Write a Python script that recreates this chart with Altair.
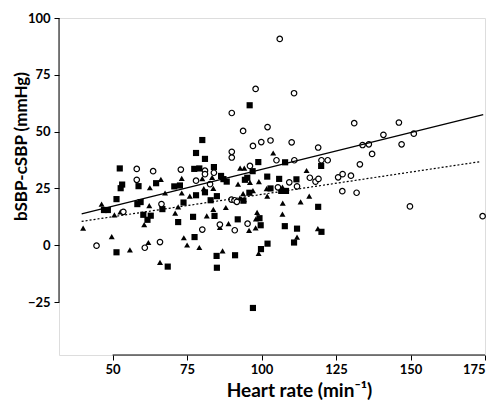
import altair as alt
import pandas as pd

# ---- data ----
circle_hr = [106.1, 98.0, 110.9, 90.0, 93.8, 102.0, 97.1, 99.9, 103.0, 110.1,
             90.0, 90.0, 105.0, 111.0, 58.1, 63.6, 72.9, 81.0, 81.0, 84.0,
             96.1, 58.1, 78.0, 82.7, 105.5, 109.3, 89.9, 90.9, 91.7, 66.4,
             53.6, 44.6, 60.8, 65.9, 80.1, 86.0, 91.0, 95.3, 120.1, 122.2,
             133.0, 111.9, 116.2, 118.1, 119.1, 125.7, 127.2, 130.0, 127.1, 131.9,
             131.1, 146.1, 140.9, 151.1, 133.9, 136.0, 147.0, 137.1, 119.0, 149.8,
             174.2]
circle_val = [90.8, 68.8, 66.9, 58.2, 50.3, 52.0, 43.7, 45.4, 46.1, 45.3,
              41.1, 38.6, 37.4, 37.4, 33.6, 32.6, 33.3, 32.8, 31.3, 31.9,
              34.9, 28.8, 28.4, 26.9, 25.5, 27.7, 20.1, 19.8, 19.1, 18.1,
              14.7, -0.2, -1.1, 1.4, 6.9, 9.1, 6.6, 9.5, 37.4, 37.4,
              35.6, 25.9, 29.7, 28.0, 29.2, 29.9, 31.3, 30.6, 23.8, 23.1,
              53.7, 54.0, 48.6, 49.1, 44.1, 44.4, 44.4, 40.2, 43.0, 17.1,
              12.8]

square_hr = [96.0, 80.1, 78.0, 81.0, 52.4, 77.4, 79.1, 84.0, 98.9, 107.9,
             97.0, 53.2, 52.7, 58.7, 64.6, 70.7, 72.6, 86.4, 87.2, 88.3,
             94.4, 95.2, 101.9, 105.9, 111.7, 51.3, 58.3, 59.4, 47.1, 48.4,
             66.7, 60.3, 62.8, 61.7, 73.8, 78.0, 81.0, 82.9, 85.0, 95.9,
             103.0, 106.6, 108.2, 93.9, 77.0, 84.2, 72.0, 92.0, 99.3, 99.7,
             107.8, 77.5, 84.9, 85.0, 91.1, 102.0, 99.8, 97.1, 51.3, 68.5,
             111.9, 120.1, 110.9, 119.0, 120.0]
square_val = [61.6, 46.3, 40.6, 38.0, 33.8, 33.6, 33.8, 34.4, 36.6, 36.5,
              32.6, 26.7, 25.1, 26.0, 27.3, 25.9, 26.3, 30.5, 29.1, 28.0,
              28.8, 29.7, 30.2, 29.2, 29.0, 20.3, 18.1, 19.0, 15.5, 15.5,
              15.9, 13.4, 13.0, 11.2, 18.8, 22.0, 23.3, 19.8, 21.6, 23.1,
              25.0, 23.9, 23.9, 19.6, 12.5, 12.9, 10.2, 11.4, 11.9, 8.8,
              8.4, 3.6, -4.7, -9.9, -4.4, 0.7, -1.7, -27.6, -3.1, -9.4,
              7.3, 5.9, 1.2, 16.9, 34.9]

triangle_hr = [103.9, 92.8, 94.2, 66.2, 73.2, 80.1, 83.4, 92.1, 96.1, 99.1,
               62.5, 67.6, 73.2, 75.9, 83.8, 80.6, 93.8, 92.7, 94.1, 97.1,
               101.9, 101.7, 107.1, 107.0, 115.1, 113.1, 116.0, 107.0, 118.9, 111.9,
               46.3, 40.1, 49.7, 50.6, 52.6, 55.8, 62.3, 60.6, 62.0, 65.9,
               72.0, 71.0, 73.9, 75.0, 79.1, 86.9, 86.0, 88.9, 98.1, 98.0,
               95.8, 99.0, 88.0, 83.8, 81.6, 98.5]
triangle_val = [40.6, 33.9, 33.9, 29.0, 29.4, 29.3, 29.9, 26.9, 27.7, 28.0,
                25.3, 23.0, 23.0, 21.6, 25.0, 24.9, 22.7, 20.7, 20.1, 24.0,
                21.6, 24.9, 18.5, 25.6, 32.9, 19.1, 21.6, 13.7, 7.3, 3.6,
                18.1, 7.5, 3.8, 13.4, 14.7, -2.0, 17.4, 9.1, 1.2, -7.5,
                16.9, 14.1, 3.3, 0.1, -1.0, -2.5, 7.8, 9.5, 11.6, 7.6,
                6.5, -3.6, 16.6, 15.8, 12.9, 14.5]

solid_hr = [39.6, 174.4]
solid_val = [13.8, 57.5]
dotted_hr = [39.6, 173.5]
dotted_val = [10.5, 36.8]

x_ticks = [50, 75, 100, 125, 150, 175]
y_ticks = [-25, 0, 25, 50, 75, 100]
x_domain = [32, 175]
y_domain = [-48.3, 100]

# ---- chart ----
W, H = 426, 337
FONT = "Lato"

xs = alt.Scale(domain=x_domain, nice=False, zero=False)
ys = alt.Scale(domain=y_domain, nice=False, zero=False)

xaxis = alt.Axis(values=x_ticks, domain=False, grid=False, tickSize=5,
                 tickColor="black", tickWidth=1, labelFont=FONT,
                 labelFontWeight="bold", labelFontSize=13, labelColor="black",
                 labelPadding=3, title="Heart rate (min⁻¹)", titleFont=FONT,
                 titleFontSize=19, titleFontWeight="bold", titleColor="black",
                 titleX=240, titleY=41, titleAlign="center",
                 titleBaseline="alphabetic")
yaxis = alt.Axis(values=y_ticks, domain=False, grid=False, tickSize=5,
                 tickColor="black", tickWidth=1, labelFont=FONT,
                 labelFontWeight="bold", labelFontSize=13, labelColor="black",
                 labelPadding=4, title="bSBP-cSBP (mmHg)", titleFont=FONT,
                 titleFontSize=17, titleFontWeight="bold", titleColor="black",
                 titleX=-33, titleY=128, titleAlign="center", titleAngle=270,
                 titleBaseline="alphabetic")

circles_df = pd.DataFrame({"hr": circle_hr, "val": circle_val})
squares_df = pd.DataFrame({"hr": square_hr, "val": square_val})
tri_df = pd.DataFrame({"hr": triangle_hr, "val": triangle_val})
solid_df = pd.DataFrame({"hr": solid_hr, "val": solid_val})
dotted_df = pd.DataFrame({"hr": dotted_hr, "val": dotted_val})

enc = dict(x=alt.X("hr:Q", scale=xs, axis=xaxis),
           y=alt.Y("val:Q", scale=ys, axis=yaxis))

squares = alt.Chart(squares_df).mark_point(
    shape="square", filled=True, color="black", size=38, opacity=1
).encode(**enc)

triangles = alt.Chart(tri_df).mark_point(
    shape="triangle-up", filled=True, color="black", size=36, opacity=1
).encode(**enc)

circles = alt.Chart(circles_df).mark_point(
    shape="circle", filled=True, fill="white", stroke="black",
    strokeWidth=1.2, size=30, opacity=1
).encode(**enc)

solid = alt.Chart(solid_df).mark_line(color="black", strokeWidth=1.3).encode(**enc)
dotted = alt.Chart(dotted_df).mark_line(
    color="black", strokeWidth=1.2, strokeDash=[2, 2]
).encode(**enc)

y_line = alt.Chart().mark_rule(color="black", strokeWidth=1).encode(
    x=alt.value(0), y=alt.datum(y_ticks[0]), y2=alt.datum(y_ticks[-1])
)
x_line = alt.Chart().mark_rule(color="black", strokeWidth=1).encode(
    y=alt.value(H), x=alt.datum(x_ticks[0]), x2=alt.datum(x_ticks[-1])
)

chart = alt.layer(
    squares, triangles, circles, solid, dotted, y_line, x_line
).properties(
    width=W, height=H,
    autosize=alt.AutoSizeParams(type="none"),
    padding={"left": 51, "top": 10, "right": 6, "bottom": 46},
).configure_view(stroke=None).configure(background="white")

chart.save("out.html", embed_options={"renderer": "svg", "actions": False})
